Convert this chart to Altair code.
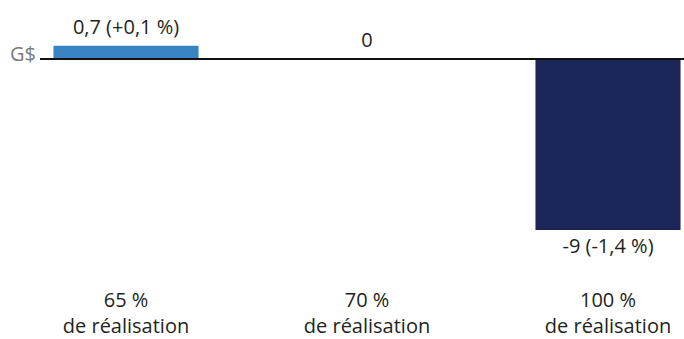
import altair as alt
import pandas as pd

# Scenario categories and their impact (G$), with percent change labels
categories = ["65 %\nde réalisation", "70 %\nde réalisation", "100 %\nde réalisation"]
values = [0.7, 0.0, -9.0]
value_labels = ["0,7 (+0,1 %)", "0", "-9 (-1,4 %)"]
colors = ["#3a84c6", "#ffffff", "#1c2557"]

df = pd.DataFrame({
    "cat": categories,
    "value": values,
    "label": value_labels,
    "color": colors,
})

FONT = "Open Sans"
FS = 20
TEXT_COLOR = "#231f20"

x = alt.X("cat:N", sort=categories, axis=None,
          scale=alt.Scale(range=[5.5, 728.5], paddingInner=0.398, paddingOuter=0.199))
y_scale = alt.Scale(domain=[-15, 3], range=[344, 2])

base = alt.Chart(df)

bars = base.transform_filter("datum.value != 0").mark_bar().encode(
    x=x,
    y=alt.Y("value:Q", scale=y_scale, axis=None),
    y2=alt.datum(0),
    color=alt.Color("color:N", scale=None, legend=None),
)

zero_line = alt.Chart(pd.DataFrame({"v": [0]})).mark_rule(
    color="#111111", strokeWidth=2
).encode(
    y=alt.Y("v:Q", scale=y_scale),
    x=alt.value(40),
    x2=alt.value(684),
)

unit_label = alt.Chart(pd.DataFrame({"v": [0], "t": ["G$"]})).mark_text(
    align="right", baseline="bottom", dy=6, font=FONT, fontSize=FS, color="#7a7a7a"
).encode(
    y=alt.Y("v:Q", scale=y_scale),
    x=alt.value(36),
    text="t:N",
)

labels_up = base.transform_filter("datum.value >= 0").mark_text(
    baseline="bottom", dy=-8, font=FONT, fontSize=FS, color=TEXT_COLOR
).encode(
    x=x,
    y=alt.Y("value:Q", scale=y_scale),
    text="label:N",
)

labels_down = base.transform_filter("datum.value < 0").mark_text(
    baseline="top", dy=7, font=FONT, fontSize=FS, color=TEXT_COLOR
).encode(
    x=x,
    y=alt.Y("value:Q", scale=y_scale),
    text="label:N",
)

cat_labels = base.mark_text(
    baseline="middle", lineBreak="\n", lineHeight=26, font=FONT, fontSize=FS,
    color=TEXT_COLOR
).encode(
    x=x,
    y=alt.value(301),
    text="cat:N",
)

chart = alt.layer(
    bars, zero_line, unit_label, labels_up, labels_down, cat_labels
).properties(
    width=684, height=339, padding=0, autosize=alt.AutoSizeParams(type="none")
).configure_view(stroke=None)

chart.save("out.html", embed_options={"renderer": "svg", "actions": False})
